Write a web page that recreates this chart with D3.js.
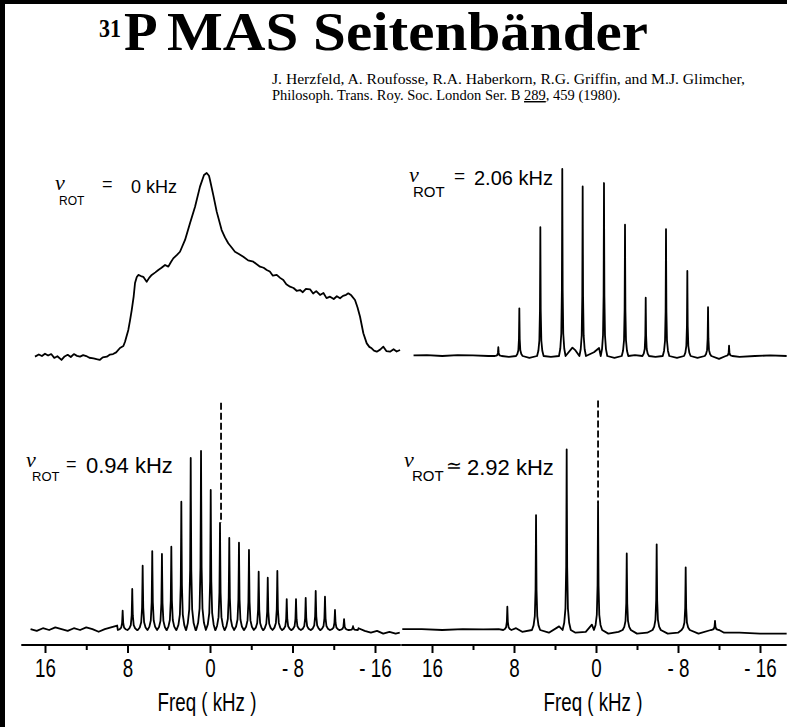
<!DOCTYPE html>
<html>
<head>
<meta charset="utf-8">
<script src="https://cdn.jsdelivr.net/npm/d3@7/dist/d3.min.js"></script>
<style>
  body { margin: 0; background: #fff; }
  svg { display: block; }
  .spec { fill: none; stroke: #000; stroke-width: 1.8; stroke-linejoin: round; }
  .sans { font-family: "Liberation Sans", Arial, Helvetica, sans-serif; fill: #000; }
  .serif { font-family: "Liberation Serif", "Times New Roman", serif; fill: #000; }
  .tick line { stroke: #000; stroke-width: 2; }
</style>
</head>
<body>
<div id="chart"></div>
<script>

// ---- data: [frequency kHz, relative intensity] ----

// nu_rot = 0 kHz, static powder pattern
var staticSpec = [
  [16.97, 0.2], [16.6, 1.4], [16.3, 0.5], [16.0, 1.8], [15.7, 0.8], [15.4, 1.6], [15.1, -0.5],
  [14.8, 0.4], [14.4, -1.6], [14.1, 0.3], [13.8, 1.2], [13.5, 0.0], [13.2, 1.6], [12.9, 0.6],
  [12.6, 0.2], [12.3, 1.0], [12.0, 0.5], [11.7, -0.4], [11.3, -0.7], [11.0, -1.2], [10.7, -1.6],
  [10.4, -0.2], [10.0, 0.2], [9.7, 1.3], [9.4, 1.6], [9.1, 2.5], [8.73, 4.9], [8.4, 6.0],
  [8.24, 8.3], [7.92, 14.7], [7.75, 20], [7.59, 25.5], [7.4, 33], [7.27, 40.2], [7.1, 43.5],
  [6.95, 44.6], [6.7, 44], [6.47, 43.6], [6.14, 40.9], [5.9, 43], [5.65, 44.6], [5.3, 46],
  [5.01, 47.3], [4.7, 48.5], [4.36, 50.0], [4.04, 49.1], [3.8, 51.5], [3.56, 53.6], [3.2, 55.5],
  [2.91, 57.2], [2.42, 63.6], [1.94, 72.7], [1.45, 81.7], [0.97, 92.6], [0.58, 98.9], [0.32, 100],
  [0.1, 98.5], [0, 96.2], [-0.32, 88.0], [-0.65, 79.0], [-1.13, 69.0], [-1.45, 65], [-1.77, 61.8],
  [-2.1, 59.5], [-2.42, 57.2], [-2.8, 56], [-3.23, 54.5], [-3.7, 52.5], [-4.2, 51.8], [-4.5, 50.5],
  [-4.85, 49.1], [-5.2, 48.5], [-5.5, 47.3], [-5.8, 46.5], [-6.1, 44.2], [-6.47, 44.6], [-6.8, 43],
  [-7.11, 41.8], [-7.4, 39.5], [-7.76, 38.2], [-8.1, 37.5], [-8.4, 36.0], [-8.73, 36.4], [-9.0, 35.2],
  [-9.3, 37.0], [-9.7, 36.8], [-10.0, 34.5], [-10.3, 35.8], [-10.67, 33.7], [-11.0, 34.8],
  [-11.3, 32.0], [-11.64, 32.8], [-12.0, 31.5], [-12.3, 33.0], [-12.61, 31.9], [-12.9, 33.2],
  [-13.2, 33.8], [-13.41, 34.6], [-13.7, 33.5], [-14.06, 31.0], [-14.3, 27], [-14.55, 21.9],
  [-14.87, 12.9], [-15.2, 7.4], [-15.45, 5.5], [-15.68, 4.7], [-15.9, 3.5], [-16.17, 2.9],
  [-16.5, 4.0], [-16.81, 5.6], [-17.1, 3.2], [-17.46, 2.9], [-17.8, 4.2], [-18.1, 3.0], [-18.43, 3.8]
];

// nu_rot = 2.06 kHz
var sb206Freq   = [9.53, 7.48, 5.43, 3.29, 1.30, -0.78, -2.83, -4.85, -6.83, -8.91, -10.93, -12.98];
var sb206Height = [4.7, 25.5, 68.9, 100, 90.7, 92.5, 70.2, 31.2, 67.9, 45.5, 26.1, 5.5];
var sb206Base = [
  [17.8, 0.3], [16.5, 0.5], [15.0, 0.0], [13.5, 0.5], [12.0, 0.3], [10.5, 0.0], [8.5, -0.5],
  [6.5, -1.0], [4.4, -0.5], [2.3, 4.5], [2.0, 3.0], [0.2, 2.0], [-0.3, 4.3], [-1.8, -1.0],
  [-3.8, 0.5], [-5.8, -0.5], [-7.9, -1.0], [-9.9, -1.0], [-12.0, -1.5], [-14.0, -0.5],
  [-15.5, 0.0], [-17.0, 0.3], [-18.6, 0.0]
];

// nu_rot = 0.94 kHz
var sb094Freq = [8.47, 7.54, 6.53, 5.60, 4.66, 3.75, 2.78, 1.87, 0.87, -0.07, -0.97, -1.87, -2.81,
  -3.78, -4.72, -5.60, -6.53, -7.44, -8.34, -9.28, -10.25, -11.15, -12.12, -13.0, -13.87];
var sb094Height = [10.8, 22.9, 35.9, 44.1, 42.5, 46.5, 71.7, 96.1, 100, 78.2, 59.8, 51.4, 48.8,
  44.7, 32.6, 29.2, 33.0, 17.3, 17.3, 18.0, 21.8, 18.6, 11.2, 6.1, 2.2];
var sb094Base = [
  [17.4, 0.5], [16.8, -0.5], [16.2, 1.0], [15.6, 0.0], [15.0, 1.5], [14.4, 0.5], [13.8, -0.5],
  [13.2, 1.0], [12.6, 0.0], [12.0, 1.5], [11.4, 0.5], [10.8, -1.0], [10.2, 0.5], [9.6, 1.5],
  [9.0, 2.5], [-14.4, 1.0], [-15.0, -0.5], [-15.6, -1.5], [-16.2, -0.5], [-16.8, -2.0],
  [-17.4, -1.0], [-18.0, -2.0], [-18.4, -1.5]
];

// nu_rot = 2.92 kHz
var sb292Freq   = [8.65, 5.85, 2.86, -0.20, -3.00, -5.92, -8.75, -11.61];
var sb292Height = [12.9, 63.6, 100, 70.3, 42.4, 47.4, 34.7, 5.1];
var sb292Base = [
  [18.9, 0.5], [17.0, 0.5], [15.0, 0.0], [13.0, 0.5], [11.0, 0.3], [9.5, 0.5], [7.8, 1.0],
  [7.2, -1.0], [4.6, -1.5], [3.6, 2.0], [2.0, -1.5], [1.0, -1.0], [0.4, 3.0], [-1.2, -2.0],
  [-2.2, -1.0], [-4.0, -2.0], [-5.0, -1.5], [-7.0, -2.0], [-8.0, -1.5], [-10.0, -2.0],
  [-12.5, -1.5], [-14.0, -1.5], [-16.0, -2.0], [-18.6, -2.0]
];

// isotropic position marked with a dashed line (kHz), bottom row
var isoFreq = [-1.07, -0.20];

// axis
var tickMajor  = [16, 8, 0, -8, -16];
var tickMinor  = [12, 4, -4, -12];
var tickLabels = ["16", "8", "0", "- 8", "- 16"];


// ---- drawing ----

var W = 787, H = 727;

var svg = d3.select("#chart")
    .append("svg")
        .attr("width", W)
        .attr("height", H);

svg.append("rect").attr("width", W).attr("height", H).attr("fill", "#fff");

// frame (left and top edge)
svg.append("rect").attr("x", 0).attr("y", 0).attr("width", 5).attr("height", H);
svg.append("rect").attr("x", 0).attr("y", 0).attr("width", W).attr("height", 4);

// x scales for the two columns
var xLeft  = d3.scaleLinear().domain([16, -16]).range([45, 375]);
var xRight = d3.scaleLinear().domain([16, -16]).range([432, 760]);

// line shape used for one sideband: [offset in half widths, fraction of height]
var peakShape = [[1, 0], [0.6, 0.04], [0.3, 0.12], [0.12, 0.35], [0.04, 0.75], [0, 1],
                 [-0.04, 0.75], [-0.12, 0.35], [-0.3, 0.12], [-0.6, 0.04], [-1, 0]];

function sidebandPoints(base, freqs, heights, w) {
    var pts = base.filter(function(p) {
        return !freqs.some(function(f) { return Math.abs(p[0] - f) < w; });
    });
    freqs.forEach(function(f, i) {
        peakShape.forEach(function(s) {
            pts.push([f + s[0] * w, s[1] * heights[i]]);
        });
    });
    pts.sort(function(a, b) { return b[0] - a[0]; });
    return pts;
}

var panels = [
    { pts: staticSpec, x: xLeft, y: d3.scaleLinear().domain([0, 100]).range([357, 173]) },
    { pts: sidebandPoints(sb206Base, sb206Freq, sb206Height, 0.32), x: xRight,
      y: d3.scaleLinear().domain([0, 100]).range([356, 169]) },
    { pts: sidebandPoints(sb094Base, sb094Freq, sb094Height, 0.47), x: xLeft,
      y: d3.scaleLinear().domain([0, 100]).range([630, 451]), iso: isoFreq[0],
      isoPeak: sb094Height[10] },
    { pts: sidebandPoints(sb292Base, sb292Freq, sb292Height, 0.4), x: xRight,
      y: d3.scaleLinear().domain([0, 100]).range([630, 449.3]), iso: isoFreq[1],
      isoPeak: sb292Height[3] }
];

panels.forEach(function(p) {
    var line = d3.line()
        .x(function(d) { return p.x(d[0]); })
        .y(function(d) { return p.y(d[1]); });

    svg.append("path")
        .attr("class", "spec")
        .attr("d", line(p.pts));

    if (p.iso !== undefined) {
        svg.append("line")
            .attr("x1", p.x(p.iso)).attr("x2", p.x(p.iso))
            .attr("y1", p.y(127)).attr("y2", p.y(p.isoPeak))
            .attr("stroke", "#000")
            .attr("stroke-width", 1.8)
            .attr("stroke-dasharray", "7,3");
    }
});

// nu_ROT labels: symbol with subscript in one text, then sign and value
function rotLabel(nx, ny, rx, ry, rsize, ex, esize, sign, vx, vy, vsize, value) {
    var t = svg.append("text").attr("class", "sans");
    t.append("tspan")
        .attr("x", nx).attr("y", ny)
        .attr("font-family", "Liberation Serif, Times New Roman, serif")
        .attr("font-size", 22).attr("font-style", "italic")
        .text("\u03bd");
    t.append("tspan")
        .attr("x", rx).attr("y", ry)
        .attr("font-size", rsize)
        .text("ROT");
    svg.append("text").attr("class", "sans")
        .attr("x", ex).attr("y", vy - 3)
        .attr("font-size", esize)
        .text(sign);
    svg.append("text").attr("class", "sans")
        .attr("x", vx).attr("y", vy)
        .attr("font-size", vsize)
        .text(value);
}

rotLabel(55, 190, 59, 205, 12, 102, 18, "=", 131, 193, 18, "0 kHz");
rotLabel(409, 182, 413, 197, 15, 454, 19, "=", 474, 185, 20, "2.06 kHz");
rotLabel(26, 467, 32, 481, 13, 66, 18, "=", 86, 473, 22, "0.94 kHz");
rotLabel(404, 467, 412, 481, 15, 446, 19, "\u2243", 467, 475, 22, "2.92 kHz");

// frequency axes
function drawAxis(x, ends) {
    svg.append("line")
        .attr("x1", x(ends[0])).attr("x2", x(ends[1]))
        .attr("y1", 645).attr("y2", 645)
        .attr("stroke", "#000").attr("stroke-width", 2);

    var major = svg.append("g")
        .attr("transform", "translate(0,645)")
        .call(d3.axisBottom(x)
            .tickValues(tickMajor)
            .tickSize(8)
            .tickPadding(6)
            .tickFormat(function(d, i) { return tickLabels[i]; }));
    major.select(".domain").remove();
    major.selectAll("text")
        .attr("fill", "#000")
        .attr("font-family", "Liberation Sans, Arial, sans-serif")
        .attr("font-size", 25)
        .attr("transform", "scale(0.75,1)");

    var minor = svg.append("g")
        .attr("transform", "translate(0,645)")
        .call(d3.axisBottom(x)
            .tickValues(tickMinor)
            .tickSize(5)
            .tickFormat(""));
    minor.select(".domain").remove();

    svg.append("text").attr("class", "sans")
        .attr("transform", "translate(" + (x(0) - 3) + ",711) scale(0.75,1)")
        .attr("text-anchor", "middle")
        .attr("font-size", 25)
        .text("Freq ( kHz )");
}

drawAxis(xLeft, [18.3, -18.5]);
drawAxis(xRight, [19.0, -18.6]);

// title
svg.append("text").attr("class", "serif")
    .attr("x", 99).attr("y", 37)
    .attr("font-weight", "bold")
    .attr("font-size", 26)
    .attr("textLength", 22)
    .attr("lengthAdjust", "spacingAndGlyphs")
    .text("31");

svg.append("text").attr("class", "serif")
    .attr("x", 124).attr("y", 50)
    .attr("font-weight", "bold")
    .attr("font-size", 55)
    .text("P");

svg.append("text").attr("class", "serif")
    .attr("x", 167).attr("y", 50)
    .attr("font-weight", "bold")
    .attr("font-size", 55)
    .attr("textLength", 481)
    .attr("lengthAdjust", "spacingAndGlyphs")
    .text("MAS Seitenb\u00e4nder");

// citation
svg.append("text").attr("class", "serif")
    .attr("x", 272).attr("y", 84)
    .attr("font-size", 14.5)
    .attr("textLength", 473)
    .attr("lengthAdjust", "spacingAndGlyphs")
    .text("J. Herzfeld, A. Roufosse, R.A. Haberkorn, R.G. Griffin, and M.J. Glimcher,");

var cite2 = svg.append("text").attr("class", "serif")
    .attr("x", 272).attr("y", 100)
    .attr("font-size", 14.5);
cite2.append("tspan").text("Philosoph. Trans. Roy. Soc. London Ser. B ");
cite2.append("tspan").attr("text-decoration", "underline").text("289");
cite2.append("tspan").text(", 459 (1980).");

</script>
</body>
</html>
